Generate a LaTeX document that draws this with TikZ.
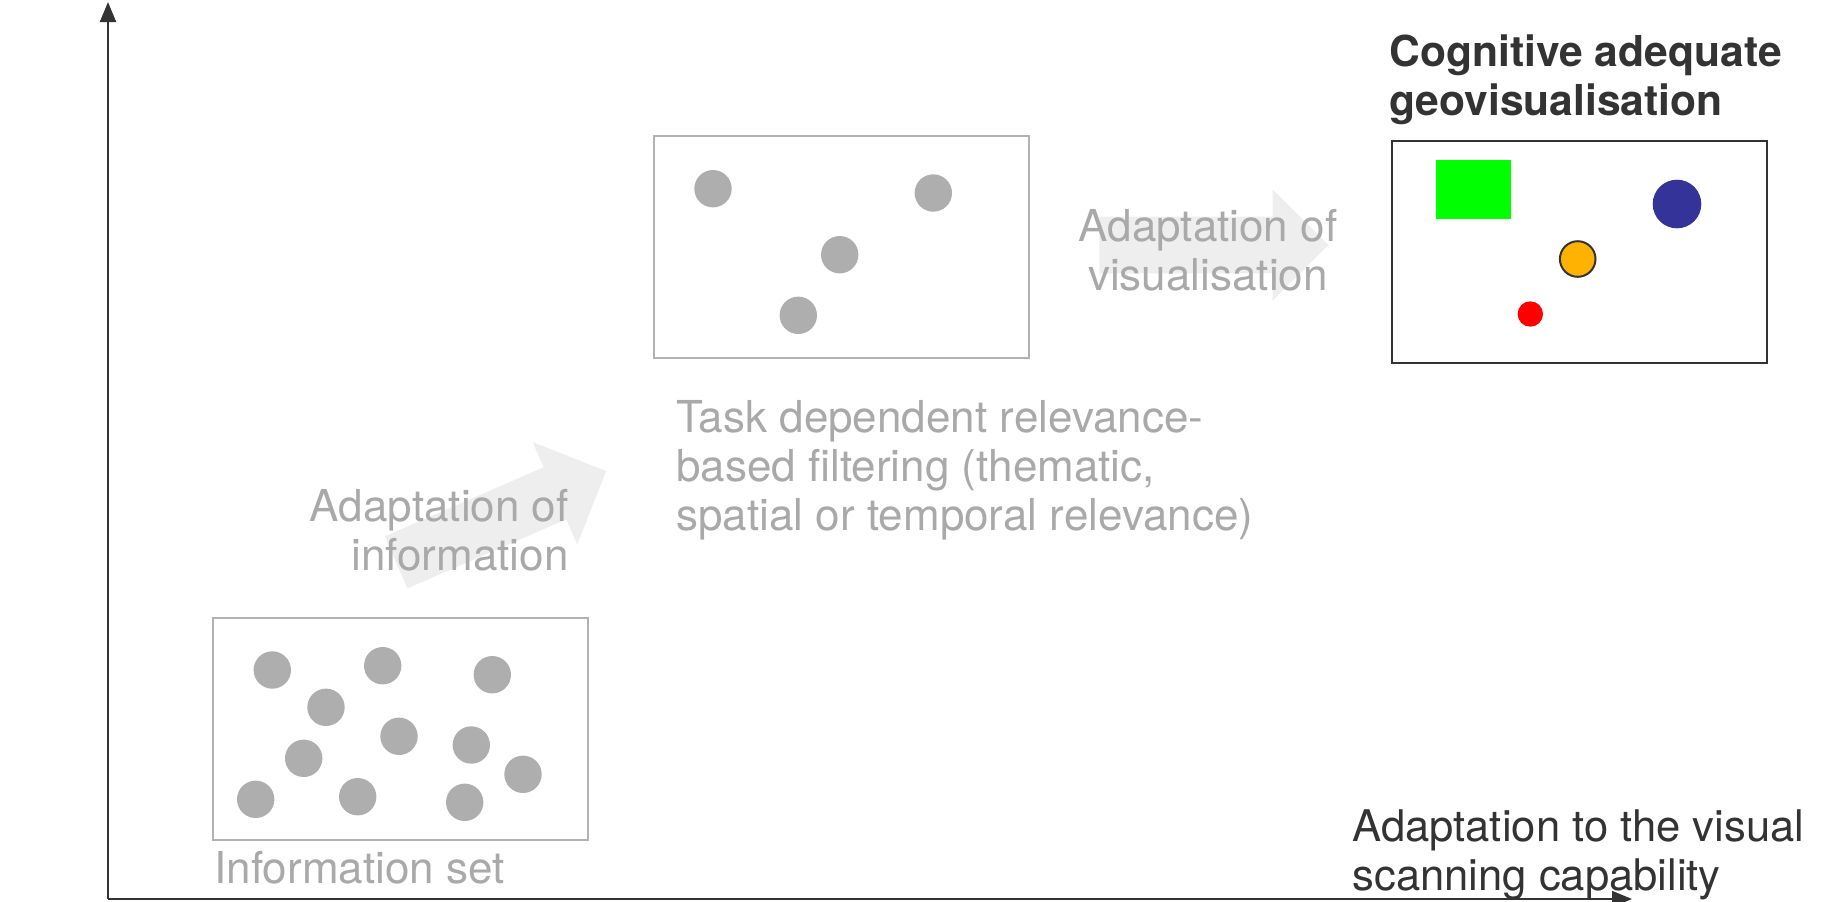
\documentclass[tikz,border=0pt]{standalone}
\usepackage{fontspec}
\setmainfont{TeX Gyre Heros}
\usetikzlibrary{shapes.arrows, arrows.meta, positioning}

\definecolor{dotgray}{HTML}{AEAEAE}
\definecolor{txtgray}{HTML}{A9A9A9}
\definecolor{boxgray}{HTML}{B2B2B2}
\definecolor{arrowgray}{HTML}{EEEEEE}
\definecolor{darkink}{HTML}{333333}
\definecolor{navyblue}{HTML}{333399}
\definecolor{amber}{HTML}{FFB300}
\definecolor{brightgreen}{HTML}{00FF00}

\begin{document}
\begin{tikzpicture}[x=0.5pt, y=-0.5pt, >={Triangle[length=10pt, width=8pt]}, font=\fontsize{22}{24.5}\selectfont,
  axis/.style={draw=darkink, line width=1pt},
  box/.style={draw=boxgray, line width=1pt, minimum width=187.5pt, minimum height=111pt, inner sep=0},
  dot/.style={circle, fill=dotgray, minimum size=18.7pt, inner sep=0},
  blockarrow/.style={single arrow, fill=arrowgray, minimum height=114.5pt, inner xsep=0, inner ysep=14pt, single arrow head extend=13.75pt, anchor=tail},
  label/.style={inner sep=0, text=txtgray}]
\useasboundingbox (0,0) rectangle (1821,901);

% axes
\coordinate (origin) at (108,899);
\coordinate (ytip) at (108,2);
\coordinate (xtip) at (1632,899);
\draw[axis, ->] (origin) -- (ytip);
\draw[axis, ->] (origin) -- (xtip);

% adaptation arrows (behind the text)
\node[blockarrow, rotate=23.5] (infoarrow) at (395.8,562.5) {};
\node[blockarrow] (visarrow) at (1099,245) {};

% information set
\node[box] (infobox) at (400.5,729) {};
\node[dot] (i1) at (272.3,670) {};
\node[dot] (i2) at (382.7,665.7) {};
\node[dot] (i3) at (492.3,674.7) {};
\node[dot] (i4) at (326,707.3) {};
\node[dot] (i5) at (399,736.3) {};
\node[dot] (i6) at (471.3,745) {};
\node[dot] (i7) at (303.7,758.3) {};
\node[dot] (i8) at (523,774.3) {};
\node[dot] (i9) at (255.7,799.3) {};
\node[dot] (i10) at (357.7,796.7) {};
\node[dot] (i11) at (464.7,802.3) {};
\node[label, anchor=base west] (infotext) at (214,883) {Information set};

% filtered set
\node[box] (filterbox) at (841.5,247) {};
\node[dot] (f1) at (713,188.7) {};
\node[dot] (f2) at (933.3,193) {};
\node[dot] (f3) at (839.7,254.7) {};
\node[dot] (f4) at (798.3,315.3) {};
\node[label, anchor=base west, align=left] (filtertext) at (676,530)
  {Task dependent relevance-\\based filtering (thematic,\\spatial or temporal relevance)};

% geovisualisation
\node[box, draw=darkink, line width=1.2pt] (geobox) at (1579.2,251.7) {};
\node[fill=brightgreen, minimum width=37.5pt, minimum height=29.5pt, inner sep=0] (greenrect) at (1473.5,189.5) {};
\node[circle, fill=navyblue, minimum size=24.3pt, inner sep=0] (bluedot) at (1677,204) {};
\node[circle, fill=amber, draw=darkink, line width=1pt, minimum size=17.8pt, inner sep=0] (amberdot) at (1577.7,259) {};
\node[circle, fill=red, minimum size=12.7pt, inner sep=0] (reddot) at (1530.3,314) {};
\node[inner sep=0, anchor=base west, align=left, text=darkink, font=\fontsize{21.3}{24.5}\selectfont\bfseries] (title) at (1389,115)
  {Cognitive adequate\\geovisualisation};

% arrow labels
\node[label, anchor=base east, align=right] (infolabel) at (569,570) {Adaptation of\\information};
\node[label, anchor=base, align=center] (vislabel) at (1208,290) {Adaptation of\\visualisation};
\node[inner sep=0, anchor=base west, align=left, text=darkink, font=\fontsize{21.8}{24.5}\selectfont] (xlabel) at (1352,890)
  {Adaptation to the visual\\scanning capability};
\end{tikzpicture}
\end{document}
